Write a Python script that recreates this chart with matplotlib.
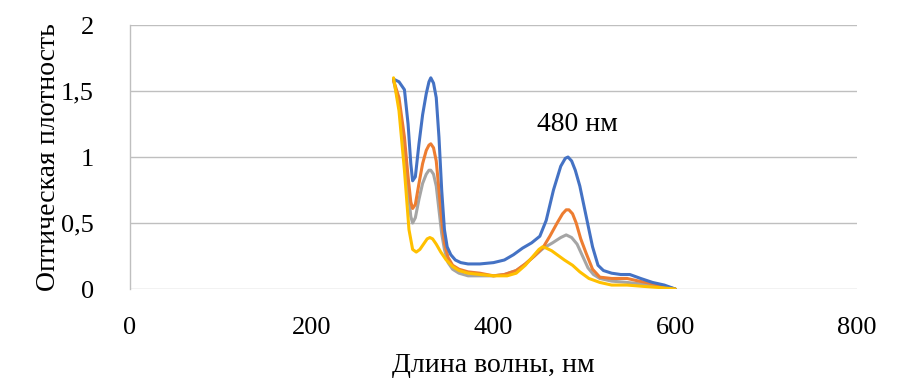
import matplotlib
matplotlib.use("Agg")
import matplotlib.pyplot as plt
from matplotlib.ticker import FuncFormatter

plt.rcParams['font.family'] = ['Liberation Serif', 'DejaVu Serif']

# wavelength (nm) and optical density
wl_blue = [290, 296, 302, 306, 309, 311, 314, 318, 322, 326, 329, 331, 334, 337, 340, 343, 346, 349, 353, 358, 364, 372, 385, 400, 412, 422, 432, 442, 451, 458, 466, 474, 479, 482, 486, 490, 495, 502, 509, 515, 521, 530, 540, 550, 562, 575, 588, 600]
od_blue = [1.59, 1.57, 1.51, 1.25, 0.95, 0.82, 0.85, 1.10, 1.32, 1.48, 1.57, 1.60, 1.56, 1.45, 1.15, 0.75, 0.45, 0.32, 0.26, 0.22, 0.20, 0.19, 0.19, 0.20, 0.22, 0.26, 0.31, 0.35, 0.40, 0.52, 0.75, 0.93, 0.99, 1.00, 0.97, 0.90, 0.78, 0.55, 0.32, 0.18, 0.14, 0.12, 0.11, 0.11, 0.08, 0.05, 0.03, 0.00]

wl_orange = [290, 296, 302, 306, 309, 311, 314, 318, 322, 326, 329, 331, 334, 337, 340, 343, 346, 350, 355, 362, 372, 385, 400, 412, 425, 435, 445, 455, 462, 470, 476, 480, 483, 487, 491, 496, 502, 509, 517, 530, 547, 560, 575, 588, 600]
od_orange = [1.58, 1.45, 1.15, 0.85, 0.66, 0.61, 0.64, 0.80, 0.95, 1.05, 1.09, 1.10, 1.07, 0.97, 0.75, 0.52, 0.35, 0.24, 0.18, 0.15, 0.13, 0.12, 0.10, 0.11, 0.14, 0.19, 0.25, 0.32, 0.40, 0.50, 0.57, 0.60, 0.60, 0.57, 0.50, 0.38, 0.27, 0.15, 0.09, 0.08, 0.08, 0.06, 0.04, 0.02, 0.00]

wl_gray = [290, 296, 302, 306, 309, 311, 314, 318, 322, 326, 329, 331, 334, 337, 340, 343, 346, 350, 355, 362, 372, 385, 400, 412, 425, 435, 445, 455, 465, 474, 480, 486, 492, 498, 504, 510, 517, 530, 547, 560, 575, 588, 600]
od_gray = [1.58, 1.40, 1.05, 0.75, 0.55, 0.50, 0.54, 0.68, 0.80, 0.87, 0.90, 0.90, 0.87, 0.78, 0.60, 0.42, 0.30, 0.20, 0.15, 0.12, 0.10, 0.10, 0.10, 0.11, 0.14, 0.19, 0.25, 0.31, 0.35, 0.39, 0.41, 0.39, 0.34, 0.25, 0.16, 0.11, 0.08, 0.06, 0.05, 0.04, 0.03, 0.02, 0.00]

wl_yellow = [290, 296, 302, 307, 311, 315, 319, 323, 327, 330, 333, 337, 342, 348, 355, 362, 372, 385, 400, 415, 425, 435, 445, 450, 454, 458, 464, 470, 478, 487, 495, 505, 517, 530, 547, 565, 585, 600]
od_yellow = [1.60, 1.35, 0.90, 0.45, 0.30, 0.28, 0.30, 0.34, 0.38, 0.39, 0.38, 0.34, 0.28, 0.22, 0.17, 0.14, 0.12, 0.11, 0.10, 0.10, 0.12, 0.18, 0.26, 0.30, 0.32, 0.31, 0.29, 0.26, 0.22, 0.18, 0.13, 0.08, 0.05, 0.03, 0.03, 0.02, 0.01, 0.00]

x_ticks = [0, 200, 400, 600, 800]
y_ticks = [0, 0.5, 1, 1.5, 2]

fig = plt.figure(figsize=(9.04, 3.89), dpi=100)
ax = fig.add_axes([0.1438, 0.257, 0.8042, 0.6787])

lw = 2.2
for wl, od, c in [(wl_gray, od_gray, '#A5A5A5'),
                  (wl_orange, od_orange, '#ED7D31'),
                  (wl_blue, od_blue, '#4472C4'),
                  (wl_yellow, od_yellow, '#FFC000')]:
    ax.plot(wl, od, color=c, lw=lw, solid_joinstyle='round', solid_capstyle='round', zorder=3)

ax.set_xlim(0, 800)
ax.set_ylim(0, 2)
ax.set_xticks(x_ticks)
ax.set_yticks(y_ticks)
ax.yaxis.set_major_formatter(FuncFormatter(lambda v, p: ('%g' % v).replace('.', ',')))
ax.tick_params(axis='both', length=0, labelsize=19, colors='black')
ax.tick_params(axis='y', pad=26)
ax.tick_params(axis='x', pad=20)
ax.grid(axis='y', color='#BFBFBF', lw=1)
ax.set_axisbelow(True)
for s in ['top', 'right', 'bottom']:
    ax.spines[s].set_visible(False)
ax.spines['left'].set_color('#BFBFBF')
ax.spines['left'].set_linewidth(1)

ax.set_xlabel('Длина волны, нм', fontsize=20, labelpad=10)
ax.set_ylabel('Оптическая плотность', fontsize=20, labelpad=0)
ax.text(448, 1.25, '480 нм', fontsize=20, va='center', ha='left')

fig.savefig('out.png', dpi=100)
